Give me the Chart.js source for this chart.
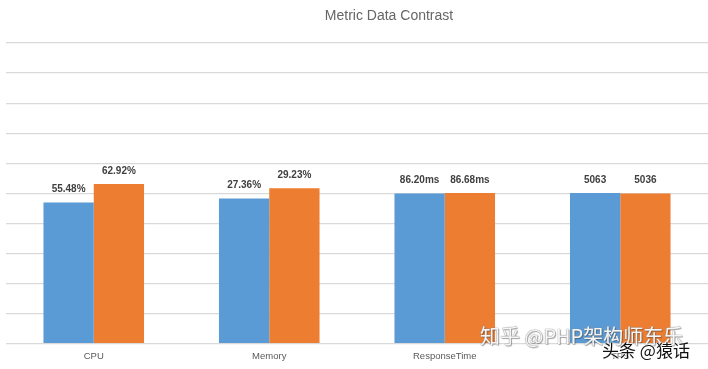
<!DOCTYPE html>
<html>
<head>
<meta charset="utf-8">
<script src="https://cdn.jsdelivr.net/npm/chart.js@4/dist/chart.umd.min.js"></script>
<style>
  html, body { margin: 0; padding: 0; background: #fff; }
  #wrap { position: relative; width: 708px; height: 369px; overflow: hidden; }
  canvas { display: block; }
  .wm1 { position: absolute; left: 480px; top: 321px; font: 20px "Noto Sans CJK SC", sans-serif; color: rgba(255,255,255,0.92);
         text-shadow: 0 0 1px #888, 0 0 1px #888, 1px 1px 1px rgba(0,0,0,0.35); white-space: nowrap; }
  .wm2 { position: absolute; left: 602px; top: 337px; font: 17px "Noto Sans CJK SC", sans-serif; color: #111;
         text-shadow: 0 0 2px #fff, 0 0 2px #fff, 0 0 2px #fff; white-space: nowrap; }
</style>
</head>
<body>
<div id="wrap">
<canvas id="c" width="708" height="369"></canvas>
<div class="wm1">知乎 @PHP架构师东乐</div>
<div class="wm2">头条 @猿话</div>
</div>
<script>
const categories = ["CPU", "Memory", "ResponseTime", "TPS"];
// bar heights (axis 0..1, gridlines every 0.1)
const seriesA = [0.469, 0.483, 0.499, 0.501];
const seriesB = [0.531, 0.517, 0.501, 0.499];
const labelsA = ["55.48%", "27.36%", "86.20ms", "5063"];
const labelsB = ["62.92%", "29.23%", "86.68ms", "5036"];
const titleText = "Metric Data Contrast";

const valueLabels = {
  id: 'valueLabels',
  afterDatasetsDraw(chart) {
    const ctx = chart.ctx;
    ctx.save();
    ctx.font = 'bold 10px "Liberation Sans", Arial, sans-serif';
    ctx.fillStyle = '#404040';
    ctx.textAlign = 'center';
    ctx.textBaseline = 'middle';
    const sets = [labelsA, labelsB];
    chart.data.datasets.forEach((ds, i) => {
      chart.getDatasetMeta(i).data.forEach((bar, j) => {
        ctx.fillText(sets[i][j], bar.x, bar.y - 13);
      });
    });
    ctx.restore();
  }
};

const titlePlugin = {
  id: 'titlePlugin',
  afterDraw(chart) {
    const ctx = chart.ctx;
    ctx.save();
    ctx.font = '14px "Liberation Sans", Arial, sans-serif';
    ctx.fillStyle = '#666666';
    ctx.textAlign = 'center';
    ctx.textBaseline = 'middle';
    ctx.fillText(titleText, 389, 16);
    ctx.restore();
  }
};

new Chart(document.getElementById('c'), {
  type: 'bar',
  data: {
    labels: categories,
    datasets: [
      { data: seriesA, backgroundColor: '#5B9BD5', borderWidth: 0 },
      { data: seriesB, backgroundColor: '#ED7D31', borderWidth: 0 }
    ]
  },
  options: {
    responsive: false,
    animation: false,
    events: [],
    categoryPercentage: 0.573,
    barPercentage: 1.0,
    layout: { padding: { left: 6, right: 0, top: 43, bottom: 0 } },
    plugins: { legend: { display: false }, title: { display: false }, tooltip: { enabled: false } },
    scales: {
      x: {
        grid: { display: false, drawTicks: false },
        border: { display: false },
        ticks: { color: '#595959', font: { size: 9.5, family: '"Liberation Sans", Arial, sans-serif' }, padding: 7 }
      },
      y: {
        min: 0, max: 1,
        ticks: { display: false, stepSize: 0.1 },
        grid: { color: '#D9D9D9', lineWidth: 1.2, drawTicks: false },
        border: { display: false }
      }
    }
  },
  plugins: [valueLabels, titlePlugin]
});
</script>
</body>
</html>
